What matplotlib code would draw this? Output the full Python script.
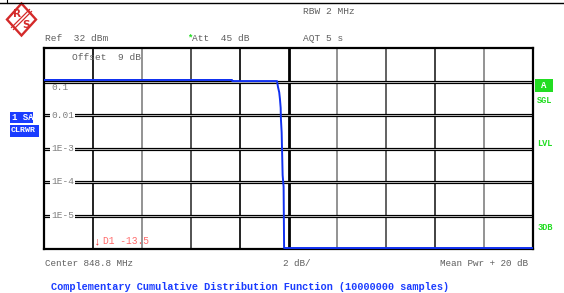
import matplotlib
matplotlib.use("Agg")
import matplotlib.pyplot as plt
from matplotlib.patches import Polygon, Rectangle

# ---------------- data ----------------
ccdf_db = [0.0, 7.69, 7.70, 9.53, 9.57, 9.62, 9.65, 9.68, 9.69, 9.72, 9.76, 9.80, 9.82, 20.0]
ccdf_prob = [0.111, 0.111, 0.103, 0.103, 0.0685, 0.0476, 0.030, 0.0162, 0.0076, 0.0030,
             1.6e-4, 7.2e-5, 1.07e-6, 1.07e-6]
y_ticks = [1e-1, 1e-2, 1e-3, 1e-4, 1e-5]
y_tick_labels = ["0.1", "0.01", "1E-3", "1E-4", "1E-5"]
x_grid = [2, 4, 6, 8, 10, 12, 14, 16, 18]
x_grid_colors = ["#111111", "#8a8a8a", "#444444", "#111111", "#000000",
                 "#8a8a8a", "#555555", "#333333", "#8a8a8a"]

MONO = ["Liberation Mono", "DejaVu Sans Mono"]
GRAY = "#5f5f5f"
BLUE = "#1a3cff"
TRACE = "#1030f0"
GREEN = "#22dd22"
LOGO = "#d42a2a"

W, H = 564, 293
fig = plt.figure(figsize=(W / 100, H / 100), dpi=100)
fig.patch.set_facecolor("white")

# main plot area (pixel layout)
L, R, T, B = 44, 533, 48, 249
ax = fig.add_axes([L / W, 1 - B / H, (R - L) / W, (B - T) / H])
ax.set_yscale("log")
ax.set_xlim(0, 20)
ax.set_ylim(1e-6, 1)
ax.set_xticks([])
ax.set_yticks([])
ax.minorticks_off()
for s in ax.spines.values():
    s.set_color("black")
    s.set_linewidth(1.6)

# vertical grid
for xv, c in zip(x_grid, x_grid_colors):
    lw = 2.0 if xv == 10 else 1.3
    ax.axvline(xv, color=c, lw=lw, zorder=1)

# horizontal double grid lines
for yv in y_ticks:
    ax.axhline(yv, color="black", lw=2.3, zorder=2)
    ax.axhline(yv, color="#cfcfcf", lw=0.6, zorder=2.1)

# y tick labels inside plot
ytr = ax.get_yaxis_transform()
for yv, lab in zip(y_ticks, y_tick_labels):
    bbox = None if yv == 1e-1 else dict(facecolor="white", edgecolor="none", pad=0.6)
    va = "top" if yv == 1e-1 else "center"
    ax.text(7 / (R - L), yv * (0.93 if yv == 1e-1 else 1), lab, transform=ytr, ha="left", va=va,
            fontsize=6.8, color="#808080", family=MONO, zorder=6 if yv == 1e-1 else 3,
            bbox=bbox)

# trace
ax.plot(ccdf_db, ccdf_prob, color=TRACE, lw=1.4, zorder=5)

# "Offset 9 dB" and marker info inside plot
ax.text((72 - L) / (R - L), 1 - (58 - T) / (B - T), "Offset  9 dB", transform=ax.transAxes,
        ha="left", va="center", fontsize=6.8, color=GRAY, family=MONO, zorder=4)
ax.text((94 - L) / (R - L), 1 - (241 - T) / (B - T), "\u2193", transform=ax.transAxes,
        ha="left", va="center", fontsize=8, color="#e83030", family=MONO, zorder=4)
ax.text((103 - L) / (R - L), 1 - (240.5 - T) / (B - T), "D1 -13.5", transform=ax.transAxes,
        ha="left", va="center", fontsize=6.9, color="#ff6a6a", family=MONO, zorder=4)

# ---------------- overlay (pixel coords) ----------------
ov = fig.add_axes([0, 0, 1, 1], zorder=10)
ov.set_xlim(0, W)
ov.set_ylim(H, 0)
ov.axis("off")
ov.patch.set_alpha(0)

# top rule
ov.plot([0, W], [2.8, 2.8], color="black", lw=1.0)
ov.plot([7, 7], [0, 2.8], color="black", lw=0.8)

# R&S logo
cx, cy, hw, hh = 21.5, 19.5, 14.5, 16.0
ov.add_patch(Polygon([[cx, cy - hh], [cx + hw, cy], [cx, cy + hh], [cx - hw, cy]],
                     closed=True, facecolor="white", edgecolor=LOGO, lw=1.7))
for off in (-1.0, 1.0):
    ov.plot([cx + 9 + off, cx - 9 + off], [cy - 9 + off, cy + 9 + off],
            color=LOGO, lw=0.9)
ov.text(cx - 4.2, cy - 5.2, "R", ha="center", va="center", fontsize=7.5,
        color=LOGO, fontweight="bold", family="DejaVu Sans")
ov.text(cx + 4.2, cy + 5.8, "S", ha="center", va="center", fontsize=7.5,
        color=LOGO, fontweight="bold", family="DejaVu Sans")

# header texts
fs = 6.8
ov.text(303, 12, "RBW 2 MHz", ha="left", va="center", fontsize=fs, color=GRAY, family=MONO)
ov.text(45, 38.5, "Ref  32 dBm", ha="left", va="center", fontsize=fs, color=GRAY, family=MONO)
ov.text(189.5, 38.5, "*", ha="center", va="center", fontsize=6.5, color=GREEN, family=MONO,
        fontweight="bold")
ov.text(192.5, 38.5, "Att  45 dB", ha="left", va="center", fontsize=fs, color=GRAY, family=MONO)
ov.text(303, 38.5, "AQT 5 s", ha="left", va="center", fontsize=fs, color=GRAY, family=MONO)

# left trace boxes
ov.add_patch(Rectangle((10, 111.5), 23, 11.5, facecolor=BLUE, edgecolor="none"))
ov.text(12, 117.3, "1 SA", ha="left", va="center", fontsize=6.5, color="white",
        family=MONO, fontweight="bold")
ov.add_patch(Rectangle((10, 125), 29, 12, facecolor=BLUE, edgecolor="none"))
ov.text(11, 131, "CLRWR", ha="left", va="center", fontsize=6.0, color="white",
        family=MONO, fontweight="bold")

# right status
ov.add_patch(Rectangle((535, 79), 18, 13, facecolor=GREEN, edgecolor="none"))
ov.text(544, 85.5, "A", ha="center", va="center", fontsize=6.5, color="white",
        family=MONO, fontweight="bold")
for yy, lab in [(100.5, "SGL"), (143, "LVL"), (227, "3DB")]:
    ov.text(545, yy, lab, ha="center", va="center", fontsize=6.2, color=GREEN,
            family=MONO, fontweight="bold")

# bottom texts
ov.text(45, 263, "Center 848.8 MHz", ha="left", va="center", fontsize=6.7, color=GRAY, family=MONO)
ov.text(283, 263, "2 dB/", ha="left", va="center", fontsize=6.7, color=GRAY, family=MONO)
ov.text(528, 263, "Mean Pwr + 20 dB", ha="right", va="center", fontsize=6.7, color=GRAY, family=MONO)
ov.text(51, 287.5, "Complementary Cumulative Distribution Function (10000000 samples)",
        ha="left", va="center", fontsize=7.4, color=BLUE, family=MONO, fontweight="bold")

fig.savefig("out.png", dpi=100, facecolor="white")
